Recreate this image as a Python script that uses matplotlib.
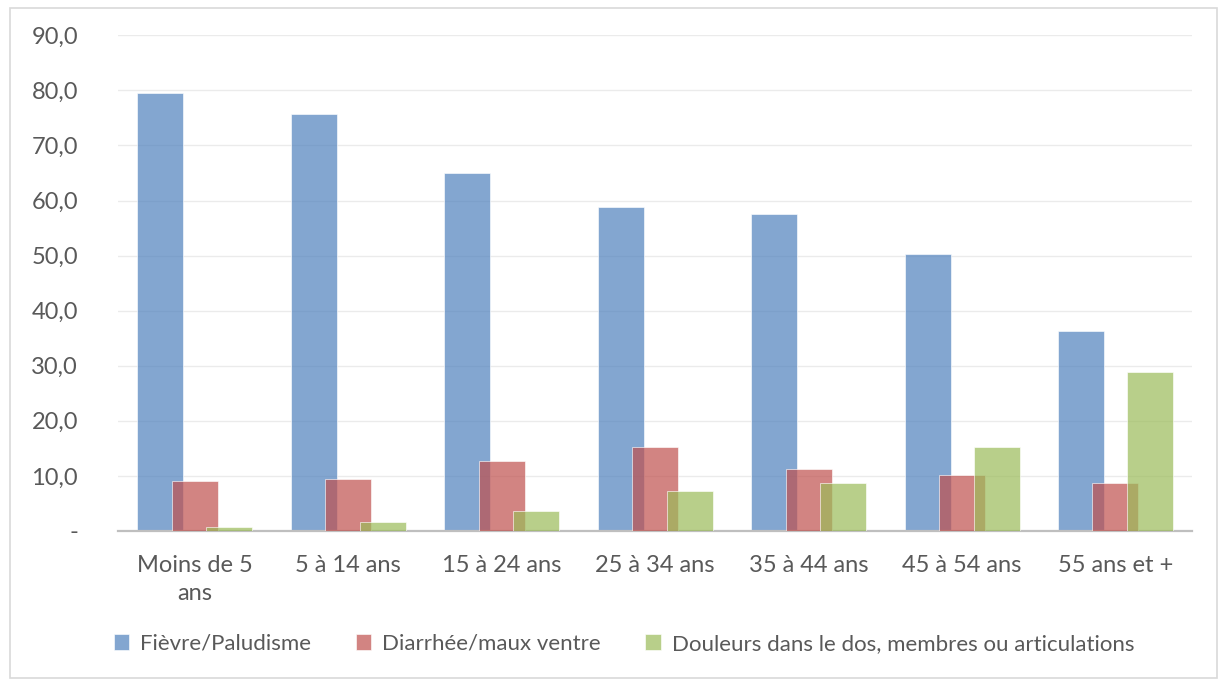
import numpy as np
import matplotlib
matplotlib.use('Agg')
import matplotlib.pyplot as plt
from matplotlib.patches import Rectangle
from matplotlib.ticker import FuncFormatter

# Données
categories = ['Moins de 5\nans', '5 à 14 ans', '15 à 24 ans', '25 à 34 ans',
              '35 à 44 ans', '45 à 54 ans', '55 ans et +']
fievre = [79.5, 75.7, 65.0, 58.8, 57.5, 50.3, 36.3]
diarrhee = [9.1, 9.4, 12.7, 15.2, 11.3, 10.2, 8.7]
douleurs = [0.7, 1.6, 3.6, 7.3, 8.7, 15.2, 28.9]
series_names = ['Fièvre/Paludisme', 'Diarrhée/maux ventre',
                'Douleurs dans le dos, membres ou articulations']

plt.rcParams['font.family'] = ['Lato', 'DejaVu Sans']
text_color = '#595959'

fig = plt.figure(figsize=(12.19, 6.79), dpi=100)
ax = fig.add_axes([0.097, 0.218, 0.881, 0.730])

x = np.arange(len(categories))
width = 0.30
offset = 0.225
colors = ['#4F81BD', '#C0504D', '#9BBB59']

for i, (vals, col, name) in enumerate(zip([fievre, diarrhee, douleurs], colors, series_names)):
    ax.bar(x + (i - 1) * offset, vals, width, color=col, alpha=0.7,
           edgecolor='white', linewidth=0.6, label=name, zorder=2 + i)

ax.set_xlim(-0.5, len(categories) - 0.5)
ax.set_ylim(0, 90)
ax.set_yticks(np.arange(0, 91, 10))
ax.yaxis.set_major_formatter(FuncFormatter(
    lambda v, p: '-' if v == 0 else f'{v:.1f}'.replace('.', ',')))
ax.set_xticks(x)
ax.set_xticklabels(categories, linespacing=1.45)

ax.grid(axis='y', color='#EBEBEB', linewidth=1, zorder=0)
for s in ['top', 'right', 'left']:
    ax.spines[s].set_visible(False)
ax.spines['bottom'].set_color('#BFBFBF')
ax.spines['bottom'].set_linewidth(1.6)
ax.tick_params(axis='both', length=0, labelsize=17, labelcolor=text_color)
ax.tick_params(axis='y', pad=29)
ax.tick_params(axis='x', pad=17)

fig.legend(loc='center', bbox_to_anchor=(0.512, 0.052), ncol=3, frameon=False,
           fontsize=16, labelcolor=text_color, handlelength=0.7, handleheight=0.7,
           columnspacing=2.0, handletextpad=0.5)

# Cadre du graphique
fig.patches.append(Rectangle((0.008, 0.002), 0.99, 0.986, transform=fig.transFigure,
                             fill=False, edgecolor='#D9D9D9', linewidth=1.2))

fig.savefig('out.png', dpi=100)
